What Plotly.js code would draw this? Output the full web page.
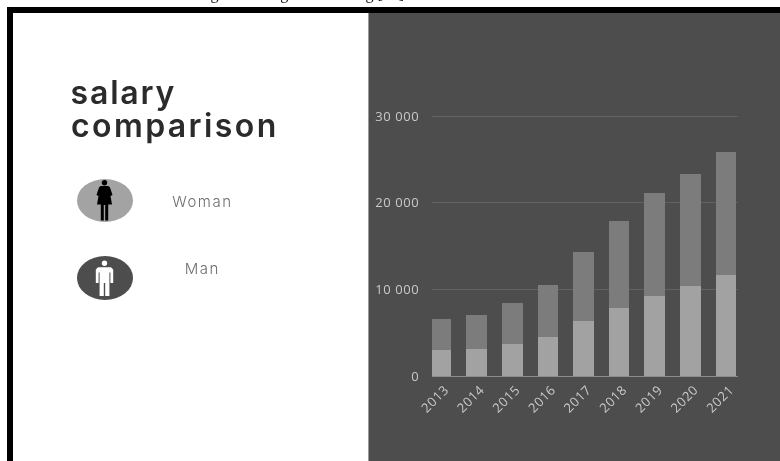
<!DOCTYPE html>
<html>
<head>
<meta charset="utf-8">
<script src="https://cdn.plot.ly/plotly-3.0.1.min.js"></script>
<style>
html,body{margin:0;padding:0;background:#fff;overflow:hidden}
#chart{width:780px;height:461px;will-change:transform}
.annotation[data-index="0"] text{letter-spacing:1.8px}
.annotation[data-index="1"] text{letter-spacing:2.4px}
.annotation[data-index="2"] text,.annotation[data-index="3"] text{letter-spacing:1.5px}
.xtick text,.ytick text{letter-spacing:.6px}
</style>
</head>
<body>
<div id="chart"></div>
<script>
// Yearly salary figures, stacked by gender
const years = ["2013","2014","2015","2016","2017","2018","2019","2020","2021"];
const woman = [2960,3080,3650,4460,6310,7850,9230,10350,11620];
const man = [3655,3960,4810,6000,8000,10030,11920,13000,14180];
const yTickValues = [0,10000,20000,30000];
const yTickLabels = ["0","10 000","20 000","30 000"];
const headingLines = ["salary","comparison"];
const legendNames = ["Woman","Man"];
const captionLine = "Rates of men and women during mentoring and teaching [16]";

const W = 780, H = 461;
const margin = {l:432, r:42, t:112, b:85};
const plotW = W - margin.l - margin.r, plotH = H - margin.t - margin.b;

// Page pixels to paper fractions, for the decoration around the plot
const px = x => (x - margin.l) / plotW;
const py = y => 1 - (y - margin.t) / plotH;
const pathFrom = pts => pts.map((p,i) => (i ? "L" : "M") + px(p[0]).toFixed(5) + "," + py(p[1]).toFixed(5)).join(" ") + " Z";
const box = (x0,y0,x1,y1,color) => ({type:"rect",xref:"paper",yref:"paper",layer:"below",
  x0:px(x0),x1:px(x1),y0:py(y0),y1:py(y1),fillcolor:color,line:{width:0}});
const oval = (x0,y0,x1,y1,color) => ({type:"circle",xref:"paper",yref:"paper",layer:"below",
  x0:px(x0),x1:px(x1),y0:py(y0),y1:py(y1),fillcolor:color,line:{width:0}});
const outline = (pts,color) => ({type:"path",xref:"paper",yref:"paper",layer:"below",
  path:pathFrom(pts),fillcolor:color,line:{width:0}});

const shapes = [
  box(369,13,780,461,"#4d4d4d"),
  box(368,13,369,461,"#9a9a9a"),
  box(7,7,780,13,"#000000"),
  box(7,7,13,461,"#000000"),

  // Woman pictogram
  oval(77,179,133,222,"#a3a3a3"),
  oval(101.8,180,107.2,185.4,"#000000"),
  outline([[100.5,186],[108.5,186],[110,187.5],[112.5,195],[110.5,196],[112,204.5],[108.2,204.5],[108.2,220.5],[105.2,220.5],[105.2,205],[103.8,205],[103.8,220.5],[100.8,220.5],[100.8,204.5],[97,204.5],[98.5,196],[96.5,195],[99,187.5]],"#000000"),

  // Man pictogram
  oval(77,256,133,300,"#4d4d4d"),
  oval(101.8,260.6,107.2,266,"#ffffff"),
  outline([[98,267.2],[111,267.2],[113.2,269.5],[113.2,283],[110.4,283],[110.4,272.5],[109.4,272.5],[109.4,296],[105.2,296],[105.2,283],[103.8,283],[103.8,296],[99.6,296],[99.6,272.5],[98.6,272.5],[98.6,283],[95.8,283],[95.8,269.5]],"#ffffff")
];

const centred = (text,x,y,font) => ({
  text, xref:"paper", yref:"paper", x:px(x), y:py(y), xanchor:"center", yanchor:"middle",
  showarrow:false, font
});
const headingFont = {family:"Inter, Roboto, sans-serif",size:32,color:"#2b2b2b",weight:600};
const labelFont = {family:"Inter, Roboto, sans-serif",size:15,color:"#6e6e6e",weight:300};

const annotations = [
  centred(headingLines[0],123,92,headingFont),
  centred(headingLines[1],174.5,126,headingFont),
  centred(legendNames[0],202,201,labelFont),
  centred(legendNames[1],202.5,268,labelFont),
  {text:captionLine,xref:"paper",yref:"paper",x:px(8),y:py(-6),xanchor:"left",yanchor:"middle",
    showarrow:false,font:{family:"Liberation Serif, serif",size:16,color:"#111111"}}
];

const traces = [
  {type:"bar",name:legendNames[0],x:years,y:woman,cliponaxis:false,marker:{color:"#a2a2a2",line:{width:0}}},
  {type:"bar",name:legendNames[1],x:years,y:man,cliponaxis:false,marker:{color:"#7c7c7c",line:{width:0}}}
];

const layout = {
  width:W, height:H, margin, showlegend:false,
  paper_bgcolor:"#ffffff", plot_bgcolor:"rgba(0,0,0,0)",
  barmode:"stack", bargap:0.42,
  font:{family:"Open Sans, sans-serif",color:"#c9c9c9",size:11},
  xaxis:{type:"category",range:[-0.252,8.336],tickangle:-45,showgrid:false,zeroline:false,
    showline:true,linecolor:"#8c8c8c",linewidth:1,ticks:"",ticklabelshift:4,
    tickfont:{size:13,color:"#c9c9c9"}},
  yaxis:{range:[0,30461],tickmode:"array",tickvals:yTickValues,ticktext:yTickLabels,
    gridcolor:"#626262",gridwidth:1,zeroline:false,showline:false,
    ticks:"outside",ticklen:9,tickcolor:"rgba(0,0,0,0)",tickfont:{size:13,color:"#c9c9c9"}},
  shapes, annotations
};

Plotly.newPlot("chart",traces,layout,{displayModeBar:false,staticPlot:true});
</script>
</body>
</html>
